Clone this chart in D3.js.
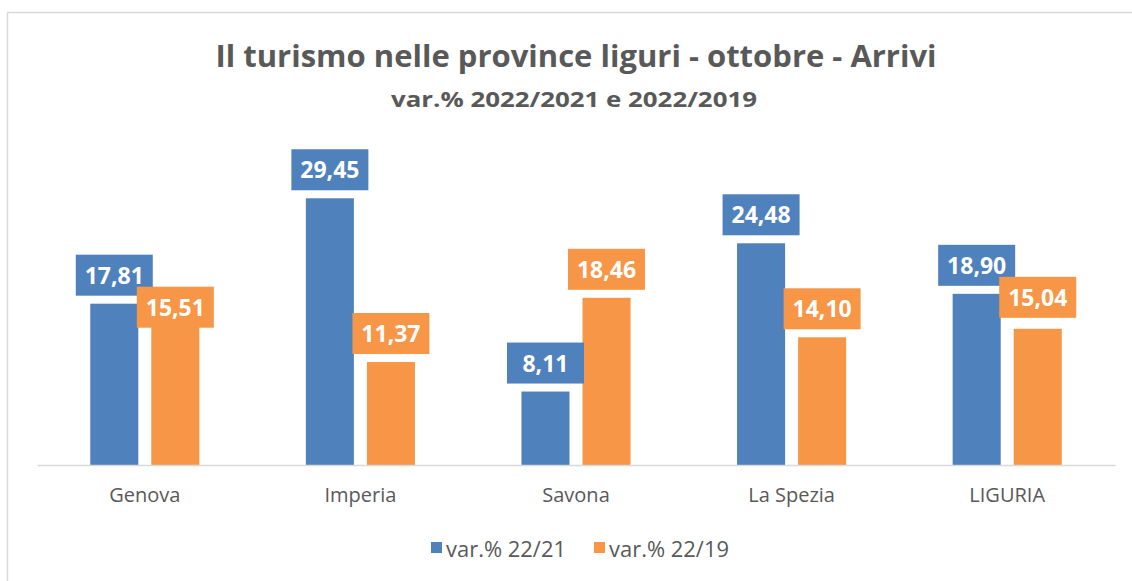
<!DOCTYPE html>
<html>
<head>
<meta charset="utf-8">
<script src="https://cdn.jsdelivr.net/npm/d3@7"></script>
<style>
  body { margin: 0; background: #fff; }
  svg { display: block; font-family: "Open Sans", "Noto Sans", sans-serif; }
</style>
</head>
<body>
<div id="chart"></div>
<script>
// data
const provinces = ["Genova", "Imperia", "Savona", "La Spezia", "LIGURIA"];
const series = ["var.% 22/21", "var.% 22/19"];
const var2221 = [17.81, 29.45, 8.11, 24.48, 18.90];
const var2219 = [15.51, 11.37, 18.46, 14.10, 15.04];
const colors = ["#4f81bd", "#f79646"];

const W = 1132, H = 581;
const baseY = 465;

const svg = d3.select("#chart")
  .append("svg")
  .attr("width", W)
  .attr("height", H);

// chart frame (only top and left edges are visible in the crop)
svg.append("rect")
  .attr("x", 7.5).attr("y", 12.5)
  .attr("width", W + 10).attr("height", H + 10)
  .attr("fill", "#fff")
  .attr("stroke", "#d9d9d9")
  .attr("stroke-width", 1.5);

// titles
svg.append("text")
  .attr("x", 576).attr("y", 67)
  .attr("text-anchor", "middle")
  .attr("fill", "#595959")
  .attr("font-weight", "bold")
  .attr("font-size", 31)
  .attr("textLength", 721)
  .attr("lengthAdjust", "spacingAndGlyphs")
  .text("Il turismo nelle province liguri - ottobre - Arrivi");

svg.append("text")
  .attr("x", 574).attr("y", 107)
  .attr("text-anchor", "middle")
  .attr("fill", "#595959")
  .attr("font-weight", "bold")
  .attr("font-size", 22)
  .attr("textLength", 366)
  .attr("lengthAdjust", "spacingAndGlyphs")
  .text("var.% 2022/2021 e 2022/2019");

// scales
const x0 = d3.scaleBand()
  .domain(provinces)
  .range([37, 1115])
  .paddingInner(0.494)
  .paddingOuter(0.247);

const x1 = d3.scaleBand()
  .domain(series)
  .range([0, x0.bandwidth()])
  .paddingInner(0.213);

const y = d3.scaleLinear()
  .domain([0, 35])
  .range([baseY, 148]);

const rows = provinces.map((p, i) => ({ name: p, values: [var2221[i], var2219[i]] }));

// bars
const groups = svg.append("g")
  .selectAll("g")
  .data(rows)
  .join("g")
  .attr("transform", d => `translate(${x0(d.name)},0)`);

groups.selectAll("rect")
  .data(d => d.values.map((v, j) => ({ key: series[j], value: v, j: j })))
  .join("rect")
  .attr("x", d => x1(d.key))
  .attr("y", d => y(d.value))
  .attr("width", x1.bandwidth())
  .attr("height", d => baseY - y(d.value))
  .attr("fill", d => colors[d.j]);

// x axis line + labels
const xAxis = svg.append("g")
  .attr("transform", `translate(0,${baseY})`)
  .call(d3.axisBottom(x0).tickSize(0).tickPadding(23));
xAxis.select(".domain").attr("stroke", "#d9d9d9").attr("stroke-width", 1.5);
xAxis.selectAll("text")
  .attr("fill", "#595959")
  .attr("font-size", 20)
  .attr("font-family", "\"Open Sans\", sans-serif");

// data labels (boxes in series colour, white bold text)
const fmt = v => d3.format(".2f")(v).replace(".", ",");
const boxH = 41, boxW = 77, gap = 8;

rows.forEach(r => {
  let prev = null;
  r.values.forEach((v, j) => {
    const cx = x0(r.name) + x1(series[j]) + x1.bandwidth() / 2;
    let top = y(v) - gap - boxH;
    const left = cx - boxW / 2;
    // nudge down when the box would sit on the previous one
    if (prev && left < prev.left + boxW && Math.abs(top - prev.top) < boxH) {
      top = prev.top + 32;
    }
    prev = { left: left, top: top };
    const g = svg.append("g");
    g.append("rect")
      .attr("x", left).attr("y", top)
      .attr("width", boxW).attr("height", boxH)
      .attr("fill", colors[j]);
    g.append("text")
      .attr("x", cx).attr("y", top + boxH / 2 + 8.5)
      .attr("text-anchor", "middle")
      .attr("fill", "#fff")
      .attr("font-weight", "bold")
      .attr("font-size", 23)
      .text(fmt(v));
  });
});

// legend
const legend = svg.append("g").attr("transform", "translate(431,0)");
let lx = 0;
series.forEach((s, i) => {
  legend.append("rect")
    .attr("x", lx).attr("y", 542)
    .attr("width", 11).attr("height", 11)
    .attr("fill", colors[i]);
  const t = legend.append("text")
    .attr("x", lx + 15).attr("y", 557)
    .attr("fill", "#595959")
    .attr("font-size", 21)
    .attr("textLength", 120)
    .attr("lengthAdjust", "spacingAndGlyphs")
    .text(s);
  lx += 15 + 120 + 28;
});
</script>
</body>
</html>
